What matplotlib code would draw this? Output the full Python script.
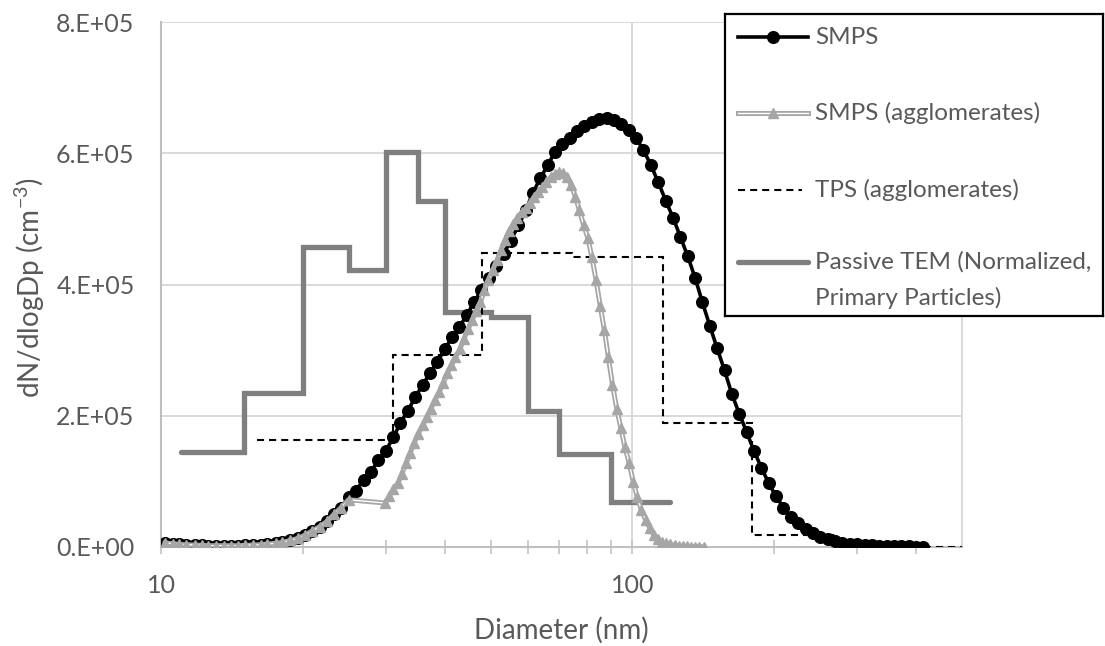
import numpy as np
import matplotlib
matplotlib.use("Agg")
import matplotlib.pyplot as plt
import matplotlib.patheffects as pe
from matplotlib.ticker import FixedLocator, FixedFormatter, NullFormatter

plt.rcParams['font.family'] = ['Lato', 'DejaVu Sans']
plt.rcParams['mathtext.fontset'] = 'custom'
plt.rcParams['mathtext.rm'] = 'Lato'

# ---------------------------------------------------------------- data
# SMPS channel midpoints (nm), 64 channels per decade
smps_d = [10.2, 10.6, 10.9, 11.3, 11.8, 12.2, 12.6, 13.1, 13.6, 14.1,
          14.6, 15.1, 15.7, 16.3, 16.8, 17.5, 18.1, 18.8, 19.5, 20.2,
          20.9, 21.7, 22.5, 23.3, 24.1, 25.0, 25.9, 26.9, 27.9, 28.9,
          30.0, 31.1, 32.2, 33.4, 34.6, 35.9, 37.2, 38.5, 40.0, 41.4,
          42.9, 44.5, 46.1, 47.8, 49.6, 51.4, 53.3, 55.2, 57.3, 59.4,
          61.5, 63.8, 66.1, 68.5, 71.0, 73.7, 76.4, 79.1, 82.0, 85.1,
          88.2, 91.4, 94.7, 98.2, 101.8, 105.5, 109.4, 113.4, 117.6, 121.9,
          126.3, 131.0, 135.8, 140.7, 145.9, 151.2, 156.8, 162.5, 168.5, 174.7,
          181.1, 187.7, 194.6, 201.7, 209.1, 216.7, 224.7, 232.9, 241.4, 250.3,
          259.5, 269.0, 278.8, 289.0, 299.6, 310.6, 322.0, 333.8, 346.0, 358.7,
          371.8, 385.4, 399.5, 414.2]
# dN/dlogDp in units of 1e5 cm^-3
smps_n = [0.06, 0.05, 0.04, 0.035, 0.03, 0.025, 0.02, 0.02, 0.02, 0.02,
          0.02, 0.025, 0.03, 0.035, 0.045, 0.055, 0.07, 0.10, 0.13, 0.18,
          0.24, 0.31, 0.39, 0.50, 0.60, 0.76, 0.86, 1.02, 1.15, 1.32,
          1.47, 1.67, 1.89, 2.08, 2.28, 2.47, 2.65, 2.82, 3.01, 3.20,
          3.35, 3.53, 3.73, 3.91, 4.10, 4.28, 4.47, 4.67, 4.90, 5.13,
          5.40, 5.62, 5.82, 6.02, 6.14, 6.24, 6.34, 6.41, 6.47, 6.52,
          6.53, 6.50, 6.44, 6.35, 6.23, 6.05, 5.82, 5.56, 5.28, 5.02,
          4.73, 4.43, 4.10, 3.73, 3.37, 3.03, 2.69, 2.33, 2.03, 1.75,
          1.46, 1.21, 0.97, 0.77, 0.60, 0.46, 0.36, 0.28, 0.21, 0.16,
          0.12, 0.09, 0.065, 0.05, 0.04, 0.03, 0.025, 0.02, 0.015, 0.012,
          0.010, 0.008, 0.006, 0.005]

# SMPS converted to agglomerate diameters (nm) above ~25 nm
aggl_d = [10.2, 10.6, 10.9, 11.3, 11.8, 12.2, 12.6, 13.1, 13.6, 14.1,
          14.6, 15.1, 15.7, 16.3, 16.8, 17.5, 18.1, 18.8, 19.5, 20.2,
          20.9, 21.7, 22.5, 23.3, 24.1, 25.0,
          29.9, 30.5, 31.1, 31.8, 32.4, 33.1, 33.8, 34.4, 35.1, 35.9,
          36.6, 37.3, 38.1, 38.9, 39.7, 40.5, 41.3, 42.1, 43.0, 43.9,
          44.8, 45.7, 46.6, 47.6, 48.5, 49.5, 50.5, 51.6, 52.6, 53.7,
          54.8, 55.9, 57.0, 58.2, 59.4, 60.6, 61.8, 63.1, 64.4, 65.7,
          67.1, 68.4, 69.8, 71.2, 72.7, 74.2, 75.7, 77.2, 78.8, 80.4,
          82.0, 83.7, 85.4, 87.2, 88.9, 90.7, 92.6, 94.5, 96.4, 98.4,
          100.4, 102.4, 104.5, 106.7, 108.8, 111.0, 113.4, 115.6, 118.0, 120.4,
          122.9, 125.3, 127.9, 130.5, 133.2, 135.9, 138.6, 141.5]
aggl_n = [0.06, 0.05, 0.04, 0.035, 0.03, 0.025, 0.02, 0.02, 0.02, 0.02,
          0.02, 0.025, 0.03, 0.035, 0.045, 0.055, 0.07, 0.10, 0.13, 0.18,
          0.24, 0.31, 0.39, 0.50, 0.60, 0.72,
          0.67, 0.77, 0.88, 0.97, 1.11, 1.28, 1.44, 1.58, 1.72, 1.86,
          1.98, 2.10, 2.24, 2.36, 2.50, 2.65, 2.77, 2.89, 3.01, 3.17,
          3.32, 3.46, 3.59, 3.73, 3.91, 4.07, 4.22, 4.37, 4.52, 4.68,
          4.81, 4.92, 5.01, 5.10, 5.16, 5.24, 5.33, 5.41, 5.48, 5.56,
          5.64, 5.68, 5.71, 5.70, 5.64, 5.51, 5.33, 5.13, 4.90, 4.71,
          4.42, 4.07, 3.68, 3.30, 2.89, 2.47, 2.11, 1.81, 1.52, 1.28,
          0.99, 0.76, 0.56, 0.41, 0.29, 0.18, 0.12, 0.07, 0.056, 0.041,
          0.026, 0.018, 0.011, 0.008, 0.005, 0.004, 0.003, 0.002]

# TPS agglomerate size bins (nm) and dN/dlogDp (1e5 cm^-3)
tps_edges = [16.0, 31.1, 48.0, 74.5, 116.0, 179.0, 270.0, 500.0]
tps_n = [1.63, 2.92, 4.48, 4.42, 1.89, 0.19, 0.0]

# Passive TEM primary particle bins (nm), normalized (1e5 cm^-3)
tem_edges = [11.0, 15.0, 20.0, 25.0, 30.0, 35.0, 40.0, 50.0, 60.0, 70.0, 90.0, 120.0]
tem_n = [1.45, 2.35, 4.57, 4.22, 6.02, 5.28, 3.58, 3.51, 2.08, 1.41, 0.68]

y_ticks = [0, 2e5, 4e5, 6e5, 8e5]
y_tick_labels = ["0.E+00", "2.E+05", "4.E+05", "6.E+05", "8.E+05"]
x_major = [10, 100]
x_major_labels = ["10", "100"]
x_minor = [20, 30, 40, 50, 60, 70, 80, 90, 200, 300, 400]

series_labels = ["SMPS", "SMPS (agglomerates)", "TPS (agglomerates)",
                 "Passive TEM (Normalized,", "Primary Particles)"]

SCALE = 1e5
smps_y = np.array(smps_n) * SCALE
aggl_y = np.array(aggl_n) * SCALE
tps_y = np.array(tps_n) * SCALE
tem_y = np.array(tem_n) * SCALE

# ---------------------------------------------------------------- styles
TXT = '#595959'
GRID = '#d9d9d9'
AXIS = '#bfbfbf'
AGG = '#a6a6a6'
TEM = '#7f7f7f'
W, H = 1105, 646

SMPS_STYLE = dict(color='black', lw=2.6, marker='o', ms=8.4, mfc='black', mec='black')
AGG_LINE = dict(color='white', lw=1.0,
                path_effects=[pe.Stroke(linewidth=3.6, foreground=AGG), pe.Normal()])
AGG_MARK = dict(ls='none', marker='^', ms=7.6, mfc=AGG, mec=AGG)
TPS_STYLE = dict(color='black', lw=1.5, linestyle=(0, (3.4, 2.4)))
TEM_STYLE = dict(color=TEM, lw=3.8)

fig = plt.figure(figsize=(W / 100, H / 100), dpi=100)
ax = fig.add_axes([161 / W, 1 - 547 / H, (962 - 161) / W, (547 - 22) / H])

ax.set_xscale('log')
ax.set_xlim(10, 500)
ax.set_ylim(0, 8e5)

# passive TEM histogram
ax.stairs(tem_y, tem_edges, baseline=None, joinstyle='miter', capstyle='round',
          zorder=2, **TEM_STYLE)
# TPS histogram (dashed)
ax.stairs(tps_y, tps_edges, baseline=None, zorder=3, **TPS_STYLE)
# SMPS
ax.plot(smps_d, smps_y, zorder=4, **SMPS_STYLE)
# SMPS agglomerates: hollow double line plus triangles
ax.plot(aggl_d, aggl_y, zorder=5, **AGG_LINE)
ax.plot(aggl_d, aggl_y, zorder=6, **AGG_MARK)

# axes, ticks, grid
ax.yaxis.set_major_locator(FixedLocator(y_ticks))
ax.yaxis.set_major_formatter(FixedFormatter(y_tick_labels))
ax.xaxis.set_major_locator(FixedLocator(x_major))
ax.xaxis.set_major_formatter(FixedFormatter(x_major_labels))
ax.xaxis.set_minor_locator(FixedLocator(x_minor))
ax.xaxis.set_minor_formatter(NullFormatter())

ax.grid(True, which='major', axis='both', color=GRID, lw=1.4, zorder=0)
ax.set_axisbelow(True)
ax.tick_params(axis='y', length=0, pad=19, labelsize=18, labelcolor=TXT)
ax.tick_params(axis='x', which='both', direction='inout', length=9.5,
               width=1.1, color=AXIS, labelsize=18, labelcolor=TXT, pad=15)
for side in ('left', 'bottom'):
    ax.spines[side].set_color(AXIS)
    ax.spines[side].set_linewidth(1.5)
ax.spines['top'].set_visible(False)
ax.spines['right'].set_color(GRID)
ax.spines['right'].set_linewidth(1.4)

fig.text(561 / W, 1 - 630 / H, 'Diameter (nm)', fontsize=20, color=TXT,
         ha='center', va='center')
fig.text(30 / W, 1 - 288 / H, r'dN/dlogDp (cm$^{\mathregular{-3}}$)', fontsize=20,
         color=TXT, ha='center', va='center', rotation=90)

# ---------------------------------------------------------------- legend box
lx0, ly0, lx1, ly1 = 725, 14, 1103, 316
lax = fig.add_axes([lx0 / W, 1 - ly1 / H, (lx1 - lx0) / W, (ly1 - ly0) / H])
lax.set_xlim(0, lx1 - lx0)
lax.set_ylim(ly1 - ly0, 0)
lax.set_xticks([])
lax.set_yticks([])
lax.set_facecolor('white')
for s in lax.spines.values():
    s.set_color('black')
    s.set_linewidth(1.6)

hx0, hx1, tx = 13, 83, 90
hmid = (hx0 + hx1) / 2
rows = [23, 99, 176, 248, 284]
lax.plot([hx0, hmid, hx1], [rows[0]] * 3, markevery=[1], **SMPS_STYLE)
lax.plot([hx0, hx1], [rows[1]] * 2, **AGG_LINE)
lax.plot([hmid], [rows[1]], **AGG_MARK)
lax.plot([hx0, hx1 - 6], [rows[2]] * 2, **TPS_STYLE)
lax.plot([hx0, hx1], [rows[3]] * 2, solid_capstyle='round', **TEM_STYLE)
for y, lab in zip(rows, series_labels):
    lax.text(tx, y, lab, fontsize=17.5, color=TXT, va='center', ha='left')

fig.savefig('out.png', dpi=100)
